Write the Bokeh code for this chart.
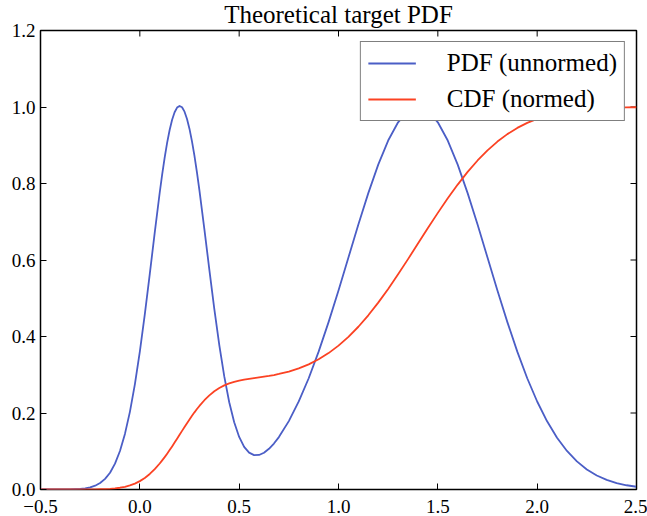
import math
from bokeh.plotting import figure
from bokeh.models import FixedTicker, Legend
from bokeh.embed import file_html
from bokeh.resources import INLINE

# ---- data ----
x_vals = [-0.5, -0.45, -0.4, -0.35, -0.3, -0.275, -0.25, -0.225, -0.2, -0.175,
          -0.15, -0.125, -0.1, -0.075, -0.05, -0.025, 0.0, 0.025, 0.05, 0.075,
          0.1, 0.1125, 0.125, 0.1375, 0.15, 0.1625, 0.175, 0.1875, 0.2, 0.2125,
          0.225, 0.2375, 0.25, 0.2625, 0.275, 0.2875, 0.3, 0.325,
          0.35, 0.375, 0.4, 0.425, 0.45, 0.475, 0.5, 0.525, 0.55, 0.575,
          0.6, 0.625, 0.65, 0.675, 0.7, 0.75, 0.8, 0.85, 0.9, 0.95,
          1.0, 1.05, 1.1, 1.15, 1.2, 1.25, 1.3, 1.35, 1.4, 1.45,
          1.5, 1.55, 1.6, 1.65, 1.7, 1.75, 1.8, 1.85, 1.9, 1.95,
          2.0, 2.05, 2.1, 2.15, 2.2, 2.25, 2.3, 2.35, 2.4, 2.45, 2.5]

pdf_vals = [0.0, 0.0, 0.0, 0.0005, 0.0017, 0.0032, 0.0057, 0.0100, 0.0169, 0.0277,
            0.0439, 0.0676, 0.1007, 0.1453, 0.2030, 0.2749, 0.3604, 0.4578, 0.5633, 0.6713,
            0.7758, 0.8238, 0.8676, 0.9067, 0.9399, 0.9667, 0.9864, 0.9985, 1.0028, 0.9992,
            0.9878, 0.9688, 0.9427, 0.9103, 0.8720, 0.8290, 0.7820, 0.6802,
            0.5744, 0.4715, 0.3773, 0.2956, 0.2281, 0.1757, 0.1374, 0.1115, 0.0963, 0.0899,
            0.0903, 0.0962, 0.1064, 0.1202, 0.1370, 0.1788, 0.2302, 0.2909, 0.3604, 0.4376,
            0.5205, 0.6065, 0.6926, 0.7748, 0.8493, 0.9123, 0.9600, 0.9898, 1.0000, 0.9898,
            0.9600, 0.9123, 0.8493, 0.7748, 0.6926, 0.6065, 0.5205, 0.4376, 0.3604, 0.2909,
            0.2301, 0.1783, 0.1353, 0.1007, 0.0734, 0.0524, 0.0367, 0.0251, 0.0169, 0.0111, 0.0072]

cdf_vals = [0.0, 0.0, 0.0, 0.0, 0.0001, 0.0001, 0.0002, 0.0003, 0.0006, 0.0011,
            0.0018, 0.0029, 0.0046, 0.0071, 0.0106, 0.0154, 0.0219, 0.0302, 0.0406, 0.0531,
            0.0679, 0.0761, 0.0846, 0.0936, 0.1030, 0.1127, 0.1226, 0.1328, 0.1431, 0.1533,
            0.1634, 0.1734, 0.1831, 0.1926, 0.2017, 0.2103, 0.2184, 0.2334,
            0.2461, 0.2567, 0.2653, 0.2722, 0.2775, 0.2815, 0.2847, 0.2872, 0.2893, 0.2912,
            0.2931, 0.2950, 0.2970, 0.2993, 0.3020, 0.3083, 0.3166, 0.3272, 0.3404, 0.3566,
            0.3761, 0.3990, 0.4255, 0.4554, 0.4885, 0.5244, 0.5625, 0.6023, 0.6429, 0.6834,
            0.7232, 0.7613, 0.7972, 0.8303, 0.8602, 0.8867, 0.9096, 0.9291, 0.9453, 0.9584,
            0.9688, 0.9773, 0.9838, 0.9885, 0.9920, 0.9946, 0.9964, 0.9976, 0.9985, 0.9990, 0.9994]

x_ticks = [-0.5, 0.0, 0.5, 1.0, 1.5, 2.0, 2.5]
x_tick_labels = ["\u22120.5", "0.0", "0.5", "1.0", "1.5", "2.0", "2.5"]
y_ticks = [0.0, 0.2, 0.4, 0.6, 0.8, 1.0, 1.2]
y_tick_labels = ["0.0", "0.2", "0.4", "0.6", "0.8", "1.0", "1.2"]
series_names = ["PDF (unnormed)", "CDF (normed)"]
title_text = "Theoretical target PDF"

FONT = "Liberation Serif"
BLUE = "#4b5ec6"
RED = "#fb4223"
X0, X1 = -0.5, 2.5
Y0, Y1 = 0.0, 1.2

p = figure(width=647, height=522, x_range=(X0, X1), y_range=(Y0, Y1),
           output_backend="svg", toolbar_location=None,
           min_border_left=40, min_border_right=11, min_border_top=36, min_border_bottom=27,
           margin=(-6, 0, 0, 0))
p.grid.visible = False
p.outline_line_color = "black"
p.outline_line_width = 1.5
p.background_fill_color = "white"
p.border_fill_color = "white"

p.title.text = title_text
p.title.align = "center"
p.title.text_font = FONT
p.title.text_font_size = "25px"
p.title.text_font_style = "normal"
p.title.text_color = "black"
p.title.standoff = 6


def style_axis(ax, ticks, labels, standoff):
    ax.ticker = FixedTicker(ticks=ticks)
    ax.major_label_overrides = dict(zip(ticks, labels))
    ax.axis_line_color = None
    ax.major_tick_in = 6
    ax.major_tick_out = 0
    ax.major_tick_line_color = "black"
    ax.major_tick_line_width = 1
    ax.minor_tick_line_color = None
    ax.major_label_text_font = FONT
    ax.major_label_text_color = "black"
    ax.major_label_text_font_size = "19px"
    ax.major_label_standoff = standoff


style_axis(p.xaxis[0], x_ticks, x_tick_labels, 10)
style_axis(p.yaxis[0], y_ticks, y_tick_labels, 5)

# inward ticks on the top and right spines (matplotlib classic style)
p.ray(x=x_ticks, y=[Y1] * len(x_ticks), length=6, length_units="screen",
      angle=-math.pi / 2, line_color="black", line_width=1)
p.ray(x=[X1] * len(y_ticks), y=y_ticks, length=6, length_units="screen",
      angle=math.pi, line_color="black", line_width=1)

r1 = p.line(x_vals, pdf_vals, line_color=BLUE, line_width=1.8, line_join="round")
r2 = p.line(x_vals, cdf_vals, line_color=RED, line_width=1.8, line_join="round")

legend = Legend(items=[(series_names[0], [r1]), (series_names[1], [r2])],
                location="top_right", margin=11, padding=7, spacing=8,
                glyph_width=48, glyph_height=28, label_height=28, label_standoff=31,
                label_text_font=FONT, label_text_font_size="25px", label_text_color="black",
                border_line_color="black", border_line_width=1.5,
                background_fill_color="white", background_fill_alpha=1.0)
p.add_layout(legend)

open("out.html", "w").write(file_html(p, INLINE))
